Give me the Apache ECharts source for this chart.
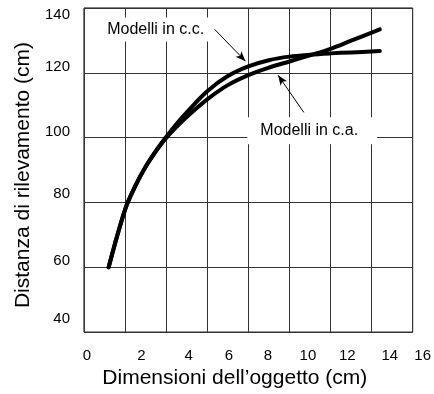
<!DOCTYPE html>
<html><head><meta charset="utf-8">
<script src="https://cdn.jsdelivr.net/npm/echarts@6/dist/echarts.min.js"></script>
<style>html,body{margin:0;padding:0;background:#fff}#c{width:434px;height:394px}</style>
</head><body><div id="c"></div>
<script>
// Data (x in cm, distance in cm)
const objectSize = [1.2, 2, 2.5, 3, 3.5, 4, 4.5, 5, 6, 7, 8, 9, 10, 11, 12, 13, 14.4];
const distCC = [60, 77.8, 85.1, 91, 95.9, 100.2, 104.2, 107.8, 114.3, 119, 122, 123.9, 125, 125.6, 126, 126.3, 126.7];
const distCA = [60, 77.8, 85.1, 91, 95.8, 99.9, 103.3, 106.4, 111.8, 116.2, 119.3, 121.6, 123.5, 125.4, 127.4, 129.9, 133.4];

const xTickLabels = ['0', '2', '4', '6', '8', '10', '12', '14', '16'];
const xTickLabelAt = [0.14, 2.8, 5.1, 7.05, 8.95, 10.9, 12.82, 14.89, 16];
const yTickLabels = ['40', '60', '80', '100', '120', '140'];
const yTickLabelAt = [44.2, 62, 82.6, 101.7, 121.8, 138];

const annTexts = ['Modelli in c.c.', 'Modelli in c.a.'];
const annTextAt = [[3.49, 133.4], [11.11, 102.1]];
const annArrowFrom = [[6.36, 133.4], [10.7, 107.8]];
const annArrowTo = [[7.86, 123.6], [9.45, 119.25]];

const FONT = "'Liberation Sans', Arial, sans-serif";
const zip = (xs, ys) => xs.map((x, i) => [x, ys[i]]);
const nearestLabel = (v, at, labels) => {
  let best = 0;
  at.forEach((a, i) => { if (Math.abs(a - v) < Math.abs(at[best] - v)) best = i; });
  return labels[best];
};

function annotation(i, padding) {
  return {
    markPoint: {
      silent: true, symbol: 'rect', symbolSize: 0, animation: false,
      data: [{ coord: annTextAt[i] }],
      label: {
        show: true, position: 'inside', formatter: annTexts[i],
        color: '#000', fontSize: 16, fontFamily: FONT,
        backgroundColor: '#fff', padding: padding
      }
    },
    markLine: {
      silent: true, animation: false, symbol: ['none', 'arrow'], symbolSize: [6, 10],
      label: { show: false },
      lineStyle: { type: 'solid', color: '#000', width: 1 },
      data: [[{ coord: annArrowFrom[i] }, { coord: annArrowTo[i] }]]
    }
  };
}

const chart = echarts.init(document.getElementById('c'), null, { renderer: 'canvas' });
chart.setOption({
  animation: false,
  backgroundColor: '#fff',
  grid: { left: 84, top: 8, width: 332, height: 330, show: true, borderColor: '#000', borderWidth: 1, backgroundColor: 'transparent' },
  xAxis: {
    type: 'value', min: 0, max: 16, interval: 2,
    axisLine: { show: false }, axisTick: { show: false },
    splitLine: { show: true, lineStyle: { color: '#333', width: 1 } },
    axisLabel: {
      customValues: xTickLabelAt, margin: 16, color: '#000', fontSize: 15, fontFamily: FONT,
      formatter: v => {
        const t = nearestLabel(v, xTickLabelAt, xTickLabels);
        return t === '16' ? '{r|16}' : t;
      },
      rich: { r: { padding: [0, 0, 0, 20], fontSize: 15, fontFamily: FONT, color: '#000' } }
    },
    name: 'Dimensioni dell’oggetto (cm)', nameLocation: 'middle', nameGap: 32,
    nameTextStyle: { fontSize: 21, fontFamily: FONT, color: '#000', padding: [0, 27, 0, 0] }
  },
  yAxis: {
    type: 'value', min: 40, max: 140, interval: 20,
    axisLine: { show: false }, axisTick: { show: false },
    splitLine: { show: true, lineStyle: { color: '#333', width: 1 } },
    axisLabel: {
      customValues: yTickLabelAt, margin: 14, color: '#000', fontSize: 15, fontFamily: FONT,
      formatter: v => nearestLabel(v, yTickLabelAt, yTickLabels)
    },
    name: 'Distanza di rilevamento (cm)', nameLocation: 'middle', nameGap: 43,
    nameTextStyle: { fontSize: 21, fontFamily: FONT, color: '#000', padding: [0, 10, 0, 0] }
  },
  series: [
    Object.assign({
      name: 'Modelli in c.c.', type: 'line', data: zip(objectSize, distCC),
      smooth: 0.35, showSymbol: false, symbol: 'none',
      lineStyle: { color: '#000', width: 4, cap: 'round' }, z: 3
    }, annotation(0, [4, 9, 4, 9])),
    Object.assign({
      name: 'Modelli in c.a.', type: 'line', data: zip(objectSize, distCA),
      smooth: 0.35, showSymbol: false, symbol: 'none',
      lineStyle: { color: '#000', width: 4, cap: 'round' }, z: 3
    }, annotation(1, [6, 19, 5, 13]))
  ]
});
</script></body></html>
